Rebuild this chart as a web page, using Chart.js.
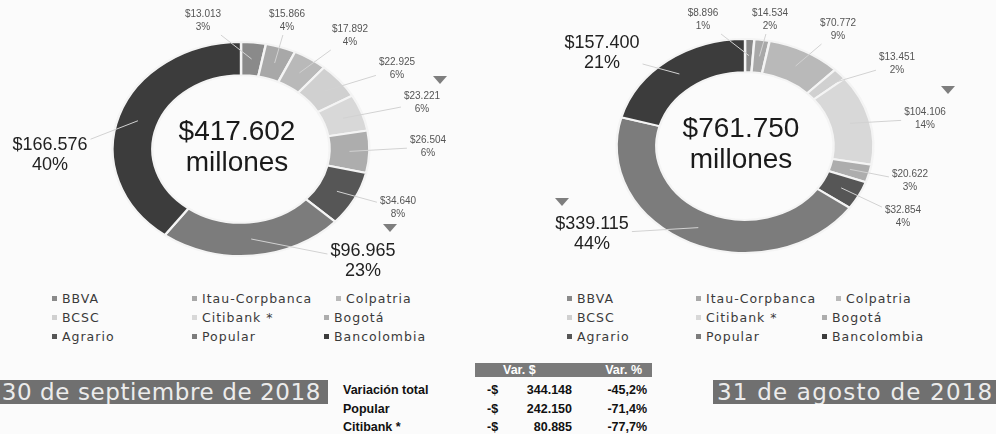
<!DOCTYPE html>
<html>
<head>
<meta charset="utf-8">
<script src="https://cdn.jsdelivr.net/npm/chart.js@4.4.1/dist/chart.umd.min.js"></script>
<style>
  body { margin: 0; width: 996px; height: 434px; background: #fbfbfb; position: relative; overflow: hidden;
         font-family: "Liberation Sans", Arial, sans-serif; }
  canvas { position: absolute; top: 0; }
  .leg { position: absolute; font-family: "DejaVu Sans", sans-serif; font-size: 12.5px; letter-spacing: 1px;
         color: #3a3a3a; white-space: nowrap; line-height: 14px; }
  .leg i { display: inline-block; width: 5px; height: 5px; margin-right: 5px; vertical-align: 2px; }
  .banner { position: absolute; top: 380px; height: 24px; line-height: 24px; background: #707070; color: #ececec;
            font-family: "DejaVu Sans", sans-serif; font-size: 23px; letter-spacing: 1.2px; white-space: nowrap; overflow: hidden; }
  .tb { position: absolute; font-weight: bold; font-size: 12.5px; color: #111; white-space: nowrap; line-height: 14px; }
</style>
</head>
<body>
<canvas id="sep" width="498" height="285" style="left:0"></canvas>
<canvas id="aug" width="498" height="285" style="left:498px"></canvas>
<div id="extras"></div>
<script>
  // millones de pesos, en el orden de la leyenda (sentido horario desde arriba)
  const banks = ['BBVA', 'Itau-Corpbanca', 'Colpatria', 'BCSC', 'Citibank *', 'Bogotá', 'Agrario', 'Popular', 'Bancolombia'];
  const valuesSep = [13013, 15866, 17892, 22925, 23221, 26504, 34640, 96965, 166576];
  const pctSep = ['3%', '4%', '4%', '6%', '6%', '6%', '8%', '23%', '40%'];
  const valuesAug = [8896, 14534, 70772, 13451, 104106, 20622, 32854, 339115, 157400];
  const pctAug = ['1%', '2%', '9%', '2%', '14%', '3%', '4%', '44%', '21%'];
  const dateSep = '30 de septiembre de 2018';
  const dateAug = '31 de agosto de 2018';
  const tableBanks = ['Popular', 'Citibank *'];

  const sliceColors = ['#8a8a8a', '#a8a8a8', '#b9b9b9', '#d0d0d0', '#d8d8d8', '#adadad', '#565656', '#7c7c7c', '#3c3c3c'];
  const SX = 1.2; // the rings in the picture are ovals

  // label places, relative to the ring centre
  const labelPosSep = [[-38, -128], [46, -128], [109, -113], [156, -80], [181, -46], [187, -2], [157, 59], [122, 112], [-191, 6]];
  const labelPosAug = [[-42, -126], [25, -126], [93, -116], [152, -82], [180, -27], [165, 35], [158, 71], [-153, 88], [-143, -93]];
  // down arrows next to the banks that fell most
  const arrowsSep = {4: [18, -23], 7: [27, -33]};
  const arrowsAug = {4: [23, -29], 7: [-30, -32]};

  const fmt = n => String(Math.round(n)).replace(/\B(?=(\d{3})+(?!\d))/g, '.');
  const sum = a => a.reduce((s, v) => s + v, 0);

  const stretch = {
    id: 'stretch',
    beforeDatasetsDraw(chart) {
      const a = chart.getDatasetMeta(0).data[0];
      const ctx = chart.ctx;
      ctx.save();
      ctx.translate(a.x, a.y);
      ctx.scale(SX, 1);
      ctx.translate(-a.x, -a.y);
    },
    afterDatasetsDraw(chart) {
      chart.ctx.restore();
    }
  };

  const labels = {
    id: 'labels',
    afterDraw(chart, args, opts) {
      const ctx = chart.ctx;
      const data = chart.data.datasets[0].data;
      const total = sum(data);
      const arcs = chart.getDatasetMeta(0).data;
      const c = arcs[0];
      arcs.forEach((arc, i) => {
        const p = arc.getProps(['x', 'y', 'startAngle', 'endAngle', 'innerRadius', 'outerRadius'], true);
        const mid = (p.startAngle + p.endAngle) / 2;
        const rm = (p.innerRadius + p.outerRadius) / 2;
        const sx = p.x + SX * rm * Math.cos(mid);
        const sy = p.y + rm * Math.sin(mid);
        const big = data[i] / total > 0.15;
        const lx = p.x + opts.pos[i][0];
        const ly = p.y + opts.pos[i][1];
        const font = big ? 18 : 10;
        const t1 = '$' + fmt(data[i]);
        const t2 = opts.pct[i];
        ctx.font = font + 'px "Liberation Sans", Arial, sans-serif';
        const w = Math.max(ctx.measureText(t1).width, ctx.measureText(t2).width) / 2 + 3;
        const h = big ? 22 : 14;
        // leader line, stops at the label box
        const dx = sx - lx, dy = sy - ly;
        const k = Math.min(Math.abs(w / (dx || 1e-6)), Math.abs(h / (dy || 1e-6)));
        ctx.strokeStyle = '#d2d2d2';
        ctx.lineWidth = 1;
        ctx.beginPath();
        ctx.moveTo(sx, sy);
        ctx.lineTo(lx + dx * k, ly + dy * k);
        ctx.stroke();
        ctx.fillStyle = big ? '#222' : '#555';
        ctx.textAlign = 'center';
        ctx.textBaseline = 'middle';
        const gap = big ? 10 : 6.5;
        ctx.fillText(t1, lx, ly - gap);
        ctx.fillText(t2, lx, ly + gap);
        const ar = opts.arrows[i];
        if (ar) {
          ctx.fillStyle = '#7e7e7e';
          ctx.beginPath();
          ctx.moveTo(lx + ar[0] - 7, ly + ar[1] - 4);
          ctx.lineTo(lx + ar[0] + 7, ly + ar[1] - 4);
          ctx.lineTo(lx + ar[0], ly + ar[1] + 4);
          ctx.closePath();
          ctx.fill();
        }
      });
      // total in the hole
      ctx.fillStyle = '#1a1a1a';
      ctx.textAlign = 'center';
      ctx.textBaseline = 'middle';
      ctx.font = '28px "Liberation Sans", Arial, sans-serif';
      ctx.fillText('$' + fmt(total), c.x - 4, c.y - 17);
      ctx.fillText('millones', c.x - 4, c.y + 14);
    }
  };

  function makeChart(id, values, pct, pos, arrows, pad) {
    return new Chart(document.getElementById(id), {
      type: 'doughnut',
      data: {
        labels: banks,
        datasets: [{
          data: values,
          backgroundColor: sliceColors,
          borderColor: '#f4f4f4',
          borderWidth: 2,
          radius: 107,
          clip: false
        }]
      },
      options: {
        responsive: false,
        animation: false,
        devicePixelRatio: 1,
        cutout: '69%',
        layout: { padding: pad },
        plugins: {
          legend: { display: false },
          tooltip: { enabled: false },
          labels: { pct: pct, pos: pos, arrows: arrows }
        }
      },
      plugins: [stretch, labels]
    });
  }

  makeChart('sep', valuesSep, pctSep, labelPosSep, arrowsSep, { left: 0, right: 16, top: 13, bottom: 0 });
  makeChart('aug', valuesAug, pctAug, labelPosAug, arrowsAug, { left: 0, right: 4, top: 7, bottom: 0 });

  // legends, 3 per row like the Excel ones
  const extras = document.getElementById('extras');
  function legend(x0, cols, row1Shift) {
    banks.forEach((b, i) => {
      const r = Math.floor(i / 3), c = i % 3;
      const d = document.createElement('div');
      d.className = 'leg';
      d.style.left = (x0 + cols[c] + (r === 0 && c === 2 ? row1Shift : 0)) + 'px';
      d.style.top = (292 + r * 19) + 'px';
      d.innerHTML = '<i style="background:' + sliceColors[i] + '"></i>' + b;
      extras.appendChild(d);
    });
  }
  legend(52, [0, 140, 272], 12);
  legend(567, [0, 129, 255], 14);

  function banner(text, left, width, align, spacing) {
    const d = document.createElement('div');
    d.className = 'banner';
    d.style.left = left + 'px';
    d.style.width = width + 'px';
    d.style.textAlign = align;
    d.style.letterSpacing = spacing + 'px';
    d.style.direction = align === 'right' ? 'rtl' : 'ltr';
    d.innerHTML = '<span style="direction:ltr;unicode-bidi:embed;padding:0 7px 0 4px">' + text + '</span>';
    extras.appendChild(d);
  }
  banner(dateSep, 0, 328, 'right', 0.6);
  banner(dateAug, 713, 283, 'left', 1.2);

  // variation table, from the two months
  const rows = [['Variación total', sum(valuesSep), sum(valuesAug)]];
  tableBanks.forEach(b => {
    const i = banks.indexOf(b);
    rows.push([b, valuesSep[i], valuesAug[i]]);
  });
  function cell(text, x, y, align, extra) {
    const d = document.createElement('div');
    d.className = 'tb';
    d.style.top = (y - 7) + 'px';
    if (align === 'right') d.style.right = (996 - x) + 'px'; else d.style.left = x + 'px';
    d.style.cssText += extra || '';
    d.textContent = text;
    extras.appendChild(d);
  }
  const head = document.createElement('div');
  head.style.cssText = 'position:absolute;left:475px;top:363px;width:177px;height:14px;background:#7a7a7a';
  extras.appendChild(head);
  cell('Var. $', 503, 370, 'left', 'color:#fff');
  cell('Var. %', 642, 370, 'right', 'color:#fff');
  rows.forEach((r, k) => {
    const y = 390 + k * 18.5;
    const diff = r[1] - r[2];
    cell(r[0], 343, y, 'left');
    cell('-$', 487, y, 'left');
    cell(fmt(Math.abs(diff)), 572, y, 'right');
    cell(((r[1] / r[2] - 1) * 100).toFixed(1).replace('.', ',') + '%', 647, y, 'right');
  });
</script>
</body>
</html>
